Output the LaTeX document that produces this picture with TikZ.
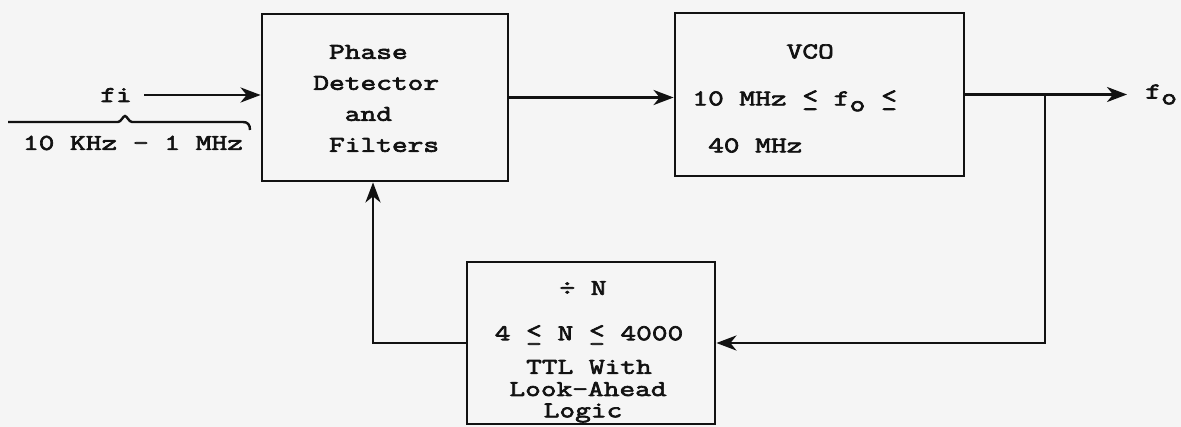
\documentclass[tikz,border=0pt]{standalone}
\usepackage{fontspec}
\newfontfamily\tw{Latin Modern Mono}[FakeStretch=1.35, FakeBold=3]
\usetikzlibrary{arrows.meta}
\definecolor{bg}{RGB}{245,245,245}
\definecolor{ink}{RGB}{18,18,18}
\newcommand{\subo}{\raisebox{-0.6ex}{\fontsize{11.5}{11.5}\selectfont o}}
\newcommand{\twle}{\rlap{\raisebox{0.25ex}{<}}\_}
\begin{document}
\begin{tikzpicture}[x=0.5pt,y=-0.5pt,
  blk/.style={draw=ink, line width=1.4pt, rectangle, inner sep=0pt},
  txt/.style={inner sep=0pt, text=ink, font=\tw\fontsize{11.3}{15.5}\selectfont},
  arr/.style={draw=ink, line width=1.4pt, -{Stealth[length=10pt,width=7.5pt,inset=3pt]}},
  ln/.style={draw=ink, line width=1.4pt}]
\useasboundingbox (0,0) rectangle (1181,427);
\fill[bg] (0,0) rectangle (1181,427);

% blocks
\node[blk, minimum width=123pt, minimum height=83.5pt] (pd) at (385,97.5) {};
\node[blk, minimum width=144.5pt, minimum height=81.5pt] (vco) at (819.5,94.5) {};
\node[blk, minimum width=124pt, minimum height=81pt] (dv) at (591,343) {};

% block texts
\node[txt, anchor=west, align=left] (pdt) at (313,98.5)
  {\phantom{D}Phase\\Detector\\\phantom{DD}and\\\phantom{D}Filters};
\node[txt, anchor=west, align=left] (vcot) at (692,98.5)
  {\phantom{10 MHz}VCO\\[8pt]10 MHz \twle{} f\subo{} \twle\\[8pt]\phantom{1}40 MHz};
\node[txt] (d1) at (583,288) {÷ N};
\node[txt] (d2) at (589,335) {4 \twle{} N \twle{} 4000};
\node[txt] (d3) at (589,367) {TTL With};
\node[txt] (d4) at (588,389) {Look-Ahead};
\node[txt] (d5) at (583,413) {Logic};

% input
\node[txt, inner xsep=6pt] (fi) at (116,95) {fi};
\node[txt] (rng) at (133,143) {10 KHz - 1 MHz};
\draw[ln, line width=1.2pt] (8,122) -- (118,122)
  .. controls (121,122) and (123,116) .. (125,116)
  .. controls (127,116) and (129,122) .. (132,122)
  -- (243,122) .. controls (248,122) and (250,125) .. (250,130);

% output
\node[txt, anchor=west, inner xsep=9pt] (fo) at (1127,94.5) {f\subo};
\coordinate (j) at (1045,94.5);
\coordinate (k) at (1045,343);
\coordinate (m) at (373,343);

% connectors
\draw[arr] (fi) -- (fi -| pd.west);
\draw[arr] (pd.east) -- (pd.east -| vco.west);
\draw[ln] (vco.east) -- (j);
\draw[arr] (j) -- (fo.west);
\draw[arr] (j) -- (k) -- (dv.east);
\draw[arr] (dv.west) -- (m) -- (m |- pd.south);
\end{tikzpicture}
\end{document}
